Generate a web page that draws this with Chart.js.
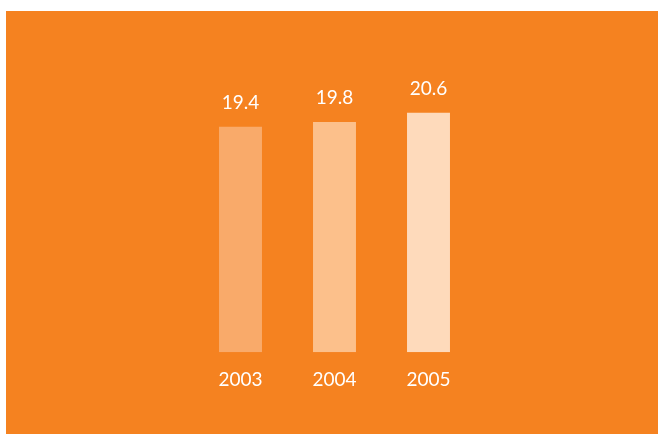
<!DOCTYPE html>
<html>
<head>
<meta charset="utf-8">
<script src="https://cdn.jsdelivr.net/npm/chart.js@4"></script>
<style>
  html, body { margin: 0; padding: 0; background: #ffffff; }
  #wrap {
    position: absolute;
    left: 6px; top: 11px;
    width: 652px; height: 423px;
    background: #f58220;
  }
</style>
</head>
<body>
<div id="wrap"><canvas id="chart"></canvas></div>
<script>
const years = ["2003", "2004", "2005"];
const values = [19.4, 19.8, 20.6];
const barColors = ["#f9aa6a", "#fcc08b", "#fedabb"];

/* Value labels above bars */
const valueLabels = {
    id: "valueLabels",
    afterDatasetsDraw(chart) {
        const ctx = chart.ctx;
        const meta = chart.getDatasetMeta(0);
        ctx.save();
        ctx.font = "19px Lato";
        ctx.fillStyle = "#ffffff";
        ctx.textAlign = "center";
        ctx.textBaseline = "middle";
        meta.data.forEach((bar, i) => {
            ctx.fillText(values[i].toFixed(1), bar.x, bar.y - 24);
        });
        ctx.restore();
    }
};

new Chart(document.getElementById("chart"), {
    type: "bar",
    data: {
        labels: years,
        datasets: [{
            data: values,
            backgroundColor: barColors,
            borderWidth: 0,
            barPercentage: 0.457,
            categoryPercentage: 1
        }]
    },
    options: {
        responsive: true,
        maintainAspectRatio: false,
        animation: false,
        layout: { padding: { left: 187.5, right: 182.5, top: 39, bottom: 27 } },
        plugins: {
            legend: { display: false },
            tooltip: { enabled: false }
        },
        scales: {
            x: {
                grid: { display: false, drawTicks: false, tickLength: 0 },
                border: { display: false },
                ticks: { color: "#ffffff", font: { family: "Lato", size: 19 }, padding: 16 }
            },
            y: {
                display: false,
                min: 0,
                max: 26
            }
        }
    },
    plugins: [valueLabels]
});
</script>
</body>
</html>
